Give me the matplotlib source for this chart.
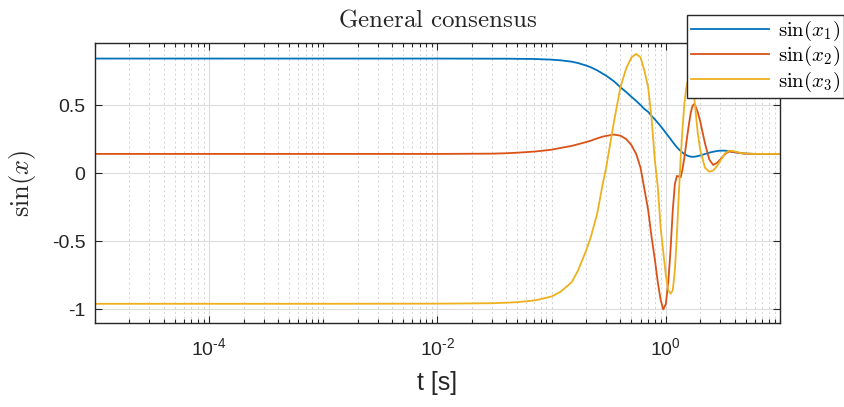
import matplotlib
matplotlib.use("Agg")
import matplotlib.pyplot as plt
from matplotlib.font_manager import FontProperties
from matplotlib.ticker import FixedLocator, FixedFormatter, LogLocator, NullFormatter

plt.rcParams['font.family'] = ['Liberation Sans', 'DejaVu Sans']
plt.rcParams['mathtext.rm'] = 'Liberation Sans'
plt.rcParams['mathtext.it'] = 'Liberation Sans:italic'

# time samples [s]
t = [1e-5, 1e-3, 1e-2, 0.03, 0.04, 0.05, 0.07, 0.08, 0.1, 0.12,
     0.15, 0.17, 0.2, 0.22, 0.25, 0.28, 0.3, 0.35, 0.4, 0.45,
     0.5, 0.55, 0.6, 0.65, 0.7, 0.75, 0.8, 0.85, 0.9, 0.95,
     1.0, 1.05, 1.1, 1.15, 1.2, 1.25, 1.3, 1.35, 1.4, 1.45,
     1.5, 1.55, 1.6, 1.65, 1.7, 1.75, 1.8, 1.9, 2.0, 2.2,
     2.4, 2.6, 2.8, 3.0, 3.3, 3.6, 4.0, 4.5, 5.0, 6.0,
     7.0, 10.0]

sin_x1 = [0.841, 0.841, 0.841, 0.840, 0.840, 0.839, 0.838, 0.836, 0.833, 0.828,
          0.818, 0.808, 0.790, 0.777, 0.755, 0.730, 0.715, 0.675, 0.630, 0.595,
          0.560, 0.530, 0.500, 0.470, 0.450, 0.420, 0.395, 0.370, 0.345, 0.320,
          0.295, 0.272, 0.250, 0.228, 0.208, 0.190, 0.175, 0.162, 0.150, 0.141,
          0.134, 0.128, 0.124, 0.121, 0.120, 0.120, 0.121, 0.125, 0.130, 0.140,
          0.150, 0.157, 0.162, 0.165, 0.165, 0.160, 0.153, 0.147, 0.143, 0.141,
          0.141, 0.141]

sin_x2 = [0.141, 0.141, 0.141, 0.143, 0.146, 0.150, 0.158, 0.163, 0.172, 0.185,
          0.200, 0.212, 0.228, 0.238, 0.255, 0.268, 0.273, 0.283, 0.275, 0.250,
          0.205, 0.140, 0.040, -0.120, -0.270, -0.470, -0.630, -0.800, -0.930, -1.000,
          -0.960, -0.800, -0.560, -0.270, -0.080, -0.020, -0.025, -0.030, 0.030, 0.110,
          0.200, 0.290, 0.370, 0.440, 0.485, 0.505, 0.500, 0.450, 0.380, 0.220,
          0.100, 0.060, 0.075, 0.100, 0.140, 0.160, 0.155, 0.147, 0.143, 0.141,
          0.141, 0.141]

sin_x3 = [-0.959, -0.959, -0.958, -0.955, -0.951, -0.947, -0.935, -0.925, -0.905, -0.870,
          -0.800, -0.715, -0.570, -0.470, -0.300, -0.080, 0.040, 0.370, 0.630, 0.770,
          0.850, 0.875, 0.850, 0.750, 0.630, 0.400, 0.100, -0.100, -0.400, -0.580,
          -0.750, -0.860, -0.885, -0.860, -0.710, -0.450, -0.150, 0.120, 0.330, 0.500,
          0.610, 0.670, 0.700, 0.700, 0.670, 0.600, 0.500, 0.300, 0.170, 0.040,
          0.010, 0.020, 0.050, 0.090, 0.145, 0.165, 0.160, 0.148, 0.143, 0.141,
          0.141, 0.141]

labels = [r'$\sin(x_1)$', r'$\sin(x_2)$', r'$\sin(x_3)$']
colors = ['#0072BD', '#D95319', '#EDB120']

xticks = [1e-4, 1e-2, 1e0]
xticklabels = [r'$10^{\text{-}4}$', r'$10^{\text{-}2}$', r'$10^{0}$']
yticks = [-1, -0.5, 0, 0.5]
yticklabels = ['-1', '-0.5', '0', '0.5']

fig = plt.figure(figsize=(8.45, 4.07), dpi=100)
ax = fig.add_axes([0.1124, 0.2064, 0.9231 - 0.1124, 0.8943 - 0.2064])

for y, lab, c in zip([sin_x1, sin_x2, sin_x3], labels, colors):
    ax.plot(t, y, color=c, linewidth=1.3, label=lab)

ax.set_xscale('log')
ax.set_xlim(1e-5, 10)
ax.set_ylim(-1.1, 0.955)

ax.xaxis.set_major_locator(FixedLocator(xticks))
ax.xaxis.set_major_formatter(FixedFormatter(xticklabels))
ax.xaxis.set_minor_locator(LogLocator(base=10, subs=range(1, 10), numticks=50))
ax.xaxis.set_minor_formatter(NullFormatter())
ax.yaxis.set_major_locator(FixedLocator(yticks))
ax.yaxis.set_major_formatter(FixedFormatter(yticklabels))

ax.tick_params(which='both', direction='in', top=True, right=True,
               labelsize=14, colors='#262626', width=0.8)
ax.tick_params(which='major', length=5)
ax.tick_params(which='minor', length=3)
ax.tick_params(axis='y', pad=7)
ax.tick_params(axis='x', pad=10)
for lbl in ax.get_xticklabels():
    lbl.set_math_fontfamily('custom')
    lbl.set_color('#262626')
for lbl in ax.get_yticklabels():
    lbl.set_color('#262626')

ax.grid(which='major', color='#dcdcdc', linewidth=0.8, linestyle='-')
ax.grid(which='minor', axis='x', color='#d2d2d2', linewidth=0.7, linestyle=(0, (2, 3)))
ax.set_axisbelow(True)

for s in ax.spines.values():
    s.set_color('#262626')
    s.set_linewidth(1.0)

ax.set_title(r'$\mathrm{General\ consensus}$', fontsize=18, color='#262626',
             math_fontfamily='cm', pad=12)
ax.set_xlabel('t [s]', fontsize=18, color='#262626', labelpad=9)
ax.set_ylabel(r'$\sin(x)$', fontsize=19, color='#262626', math_fontfamily='cm', labelpad=10)

leg = fig.legend(loc='upper right', bbox_to_anchor=(844 / 845, 1 - 15 / 407),
                 prop=FontProperties(size=15, math_fontfamily='cm'),
                 handlelength=3.75, handletextpad=0.4, labelspacing=0.05,
                 borderpad=0.2, borderaxespad=0, fancybox=False, framealpha=1,
                 edgecolor='#262626')
leg.get_frame().set_linewidth(1.0)

fig.savefig('out.png', dpi=100)
